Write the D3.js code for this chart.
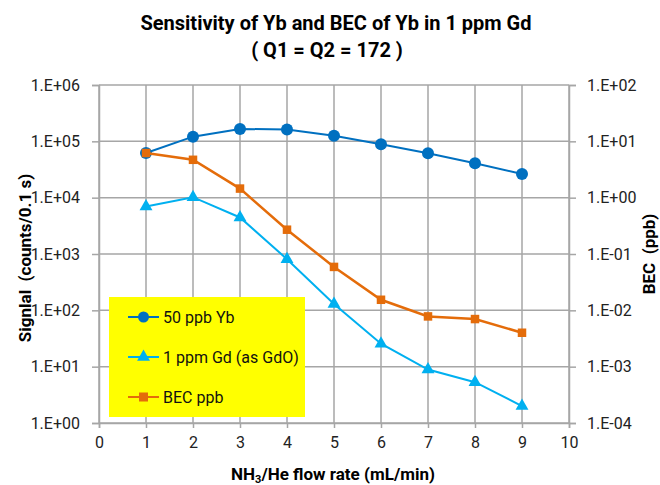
<!DOCTYPE html>
<html>
<head>
<meta charset="utf-8">
<script src="https://cdn.jsdelivr.net/npm/d3@7"></script>
<style>
  body { margin: 0; background: #fff; }
  text { font-family: Roboto, "DejaVu Sans", sans-serif; }
</style>
</head>
<body>
<div id="chart"></div>
<script>
// valores
let flowRates = [1, 2, 3, 4, 5, 6, 7, 8, 9];
let ybSignal = [62000, 121000, 166000, 162000, 126000, 89000, 61500, 40800, 26400];
let gdSignal = [6950, 10200, 4450, 810, 130, 25.6, 8.9, 5.3, 2.0];
let becPpb = [6.2, 4.7, 1.45, 0.27, 0.059, 0.0154, 0.0078, 0.0070, 0.0040];
let leftTicks = [1e0, 1e1, 1e2, 1e3, 1e4, 1e5, 1e6];
let rightTicks = [1e-4, 1e-3, 1e-2, 1e-1, 1e0, 1e1, 1e2];
let xTicks = [0, 1, 2, 3, 4, 5, 6, 7, 8, 9, 10];
let legendNames = ['50 ppb Yb', '1 ppm Gd (as GdO)', 'BEC ppb'];

let width = 660;
let height = 485;
let margin = {left: 99, right: 91, top: 85, bottom: 62};
let plotW = width - margin.left - margin.right;
let plotH = height - margin.top - margin.bottom;

let colYb = '#0070c0';
let colGd = '#00b0f0';
let colBec = '#e46c0a';
let gridCol = '#a6a6a6';

let svg = d3.select('#chart').append('svg').attr('width', width).attr('height', height);

let x = d3.scaleLinear().domain([0, 10]).range([0, plotW]);
let yL = d3.scaleLog().domain([1, 1e6]).range([plotH, 0]);
let yR = d3.scaleLog().domain([1e-4, 1e2]).range([plotH, 0]);

// formato 1.E+06
function fmtExp(d) {
  let e = Math.round(Math.log10(d));
  let s = Math.abs(e) < 10 ? '0' + Math.abs(e) : '' + Math.abs(e);
  return '1.E' + (e < 0 ? '-' : '+') + s;
}

let grp = svg.append('g').attr('transform', 'translate(' + margin.left + ',' + margin.top + ')');

// grade
grp.append('g').selectAll('line.h')
  .data(leftTicks)
  .enter().append('line')
    .attr('x1', 0).attr('x2', plotW)
    .attr('y1', d => yL(d)).attr('y2', d => yL(d))
    .attr('stroke', gridCol).attr('stroke-width', 1.5);
grp.append('g').selectAll('line.v')
  .data(xTicks)
  .enter().append('line')
    .attr('x1', d => x(d)).attr('x2', d => x(d))
    .attr('y1', 0).attr('y2', plotH)
    .attr('stroke', gridCol).attr('stroke-width', 1.5);

// eixos
let axisL = d3.axisLeft(yL).tickValues(leftTicks).tickFormat(fmtExp).tickSize(7).tickPadding(12);
let axisR = d3.axisRight(yR).tickValues(rightTicks).tickFormat(fmtExp).tickSize(7).tickPadding(11);
let axisB = d3.axisBottom(x).tickValues(xTicks).tickFormat(d3.format('d')).tickSize(5).tickPadding(9);

let gL = grp.append('g').call(axisL);
let gR = grp.append('g').attr('transform', 'translate(' + plotW + ',0)').call(axisR);
let gB = grp.append('g').attr('transform', 'translate(0,' + plotH + ')').call(axisB);
[gL, gR, gB].forEach(function (g) {
  g.selectAll('path.domain').attr('stroke', gridCol).attr('stroke-width', 1.5);
  g.selectAll('.tick line').attr('stroke', gridCol).attr('stroke-width', 1.5);
  g.selectAll('.tick text').attr('fill', '#222').style('font-size', '16px')
    .style('font-family', 'Roboto, "DejaVu Sans", sans-serif');
});

// linhas
let lineL = d3.line().x((d, i) => x(flowRates[i])).y(d => yL(d));
let lineR = d3.line().x((d, i) => x(flowRates[i])).y(d => yR(d));

grp.append('path').attr('fill', 'none').attr('stroke', colYb).attr('stroke-width', 2).attr('d', lineL(ybSignal));
grp.selectAll('circle.yb')
  .data(ybSignal)
  .enter().append('circle')
    .attr('class', 'yb')
    .attr('cx', (d, i) => x(flowRates[i]))
    .attr('cy', d => yL(d))
    .attr('r', 6)
    .attr('fill', colYb);

let tri = d3.symbol().type(d3.symbolTriangle).size(72);
grp.append('path').attr('fill', 'none').attr('stroke', colGd).attr('stroke-width', 2).attr('d', lineL(gdSignal));
grp.selectAll('path.gd')
  .data(gdSignal)
  .enter().append('path')
    .attr('class', 'gd')
    .attr('d', tri)
    .attr('transform', (d, i) => 'translate(' + x(flowRates[i]) + ',' + yL(d) + ')')
    .attr('fill', colGd);

grp.append('path').attr('fill', 'none').attr('stroke', colBec).attr('stroke-width', 2.5).attr('d', lineR(becPpb));
grp.selectAll('rect.bec')
  .data(becPpb)
  .enter().append('rect')
    .attr('class', 'bec')
    .attr('x', (d, i) => x(flowRates[i]) - 4.25)
    .attr('y', d => yR(d) - 4.25)
    .attr('width', 8.5).attr('height', 8.5)
    .attr('fill', colBec);

// legenda
let leg = svg.append('g').attr('transform', 'translate(109,297)');
leg.append('rect').attr('width', 196).attr('height', 120).attr('fill', '#ffff00');
let legCols = [colYb, colGd, colBec];
legendNames.forEach(function (name, i) {
  let ly = 20 + i * 40;
  leg.append('line').attr('x1', 19).attr('x2', 50).attr('y1', ly).attr('y2', ly)
    .attr('stroke', legCols[i]).attr('stroke-width', 2);
  if (i == 0) {
    leg.append('circle').attr('cx', 34.5).attr('cy', ly).attr('r', 5.5).attr('fill', colYb);
  } else if (i == 1) {
    leg.append('path').attr('d', tri).attr('transform', 'translate(34.5,' + ly + ')').attr('fill', colGd);
  } else {
    leg.append('rect').attr('x', 30).attr('y', ly - 4.5).attr('width', 9).attr('height', 9).attr('fill', colBec);
  }
  leg.append('text').attr('x', 54).attr('y', ly + 6).style('font-size', '16px').attr('fill', '#111').text(name);
});

// titulos
svg.append('text').attr('x', 336).attr('y', 30).attr('text-anchor', 'middle')
  .style('font-size', '20px').style('font-weight', 'bold').text('Sensitivity of Yb and BEC of Yb in 1 ppm Gd');
svg.append('text').attr('x', 327).attr('y', 57).attr('text-anchor', 'middle')
  .style('font-size', '20px').style('font-weight', 'bold').text('( Q1 = Q2 = 172 )');

let xt = svg.append('text').attr('x', 333).attr('y', 480).attr('text-anchor', 'middle')
  .style('font-size', '17px').style('font-weight', 'bold');
xt.append('tspan').text('NH');
xt.append('tspan').attr('dy', 3).style('font-size', '11px').text('3');
xt.append('tspan').attr('dy', -3).text('/He flow rate (mL/min)');

svg.append('text').attr('transform', 'translate(31,258) rotate(-90)').attr('text-anchor', 'middle')
  .style('font-size', '17px').style('font-weight', 'bold').attr('xml:space', 'preserve')
  .text('Signlal  (counts/0.1 s)');
svg.append('text').attr('transform', 'translate(655,254) rotate(-90)').attr('text-anchor', 'middle')
  .style('font-size', '17px').style('font-weight', 'bold').attr('xml:space', 'preserve')
  .text('BEC  (ppb)');
</script>
</body>
</html>
